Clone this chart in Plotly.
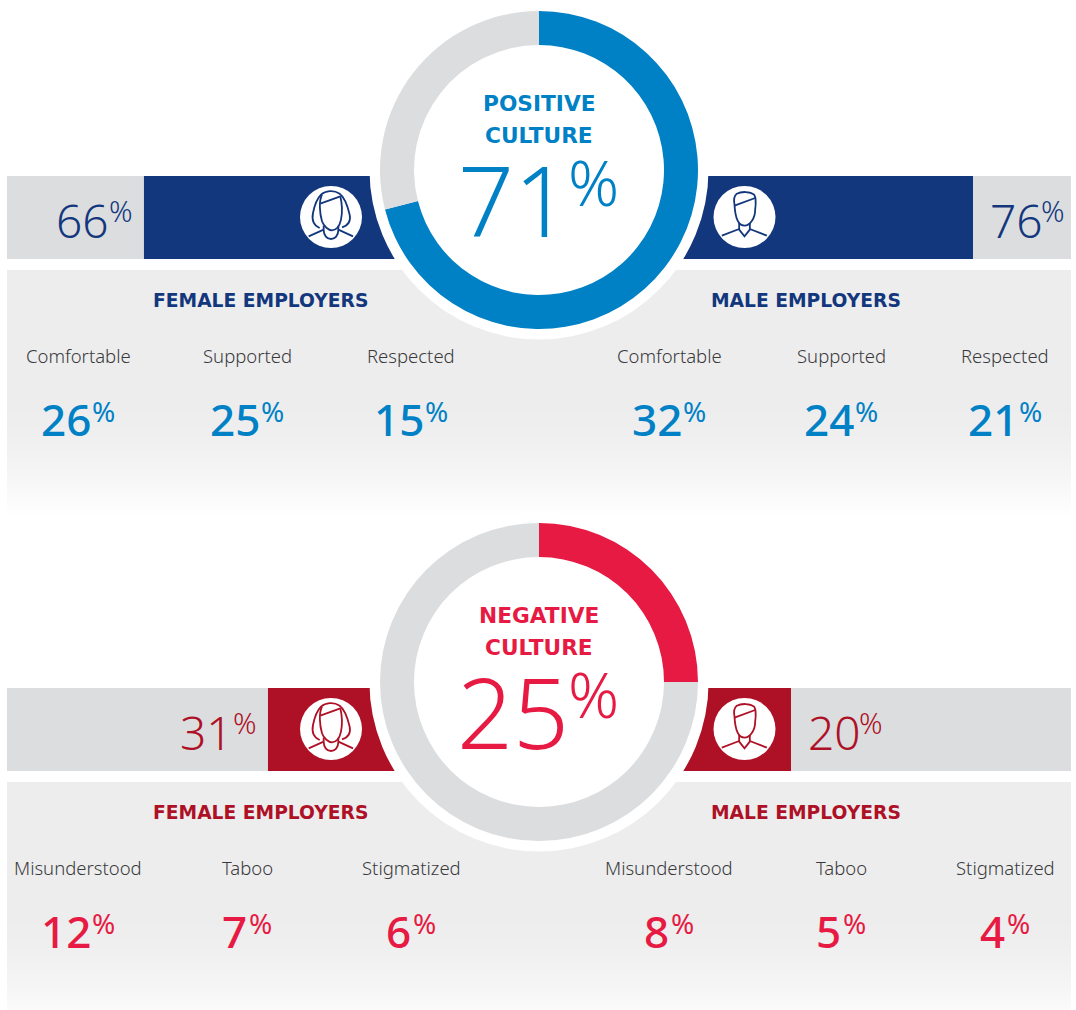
import plotly.graph_objects as go

# ---------- data ----------
culture_names = ["POSITIVE<br>CULTURE", "NEGATIVE<br>CULTURE"]
culture_values = [71, 25]
female_values = [66, 31]
male_values = [76, 20]
rows = ["positive", "negative"]
female_head = "FEMALE EMPLOYERS"
male_head = "MALE EMPLOYERS"
pos_labels = ["Comfortable", "Supported", "Respected"]
neg_labels = ["Misunderstood", "Taboo", "Stigmatized"]
pos_female = [26, 25, 15]
pos_male = [32, 24, 21]
neg_female = [12, 7, 6]
neg_male = [8, 5, 4]

# ---------- style ----------
W, H = 1076, 1010
BLUE, NAVY = "#0081C6", "#13377D"
RED, DARK = "#E61A42", "#AE1126"
GRAY, PANEL = "#DCDDDF", "#EDEDEE"
FONT = "Noto Sans"
HEAD_FONT = "DejaVu Sans"
ROW_STEP = 512
CX, CY, R_OUT, R_IN, R_WHITE = 539, 170, 159, 125, 169.5
COLS_L = [78, 247, 411]
COLS_R = [669, 841, 1005]
L0, LK = 377.8, 3.543
R0, RK = 726, 3.25
BIG_RIGHT = [570, 569]

def inv_left(p):
    return (L0 - p) / LK
def inv_right(p):
    return (p - R0) / RK
OVERLAP = 20

shapes, ann = [], []

def text(x, y, s, size, color, weight=400, anchor="center", family=FONT):
    ann.append(dict(x=x, y=y, xref="x", yref="y", text=s, showarrow=False,
                    xanchor=anchor, yanchor="middle", borderpad=0, borderwidth=0,
                    font=dict(family=family, size=size, color=color, weight=weight)))

def rect(x0, y0, x1, y1, color):
    shapes.append(dict(type="rect", xref="x", yref="y", x0=x0, y0=y0, x1=x1, y1=y1,
                       fillcolor=color, line=dict(width=0), layer="below"))

def lerp_hex(t):
    a = (0xED, 0xED, 0xEE)
    return "rgb(%d,%d,%d)" % tuple(round(c + (255 - c) * t) for c in a)

def icon(cx, cy, dy, female, color):
    shapes.append(dict(type="circle", xref="x", yref="y", x0=cx - 31, x1=cx + 31,
                       y0=cy + dy - 31, y1=cy + dy + 31, fillcolor="white",
                       line=dict(width=0), layer="above"))
    ox, oy = (122, 112) if female else (118, 112)
    if female:
        paths = [
            [("M", 88, 145), ("C", 72, 138, 63, 125, 68, 100), ("C", 72, 80, 82, 55, 92, 45),
             ("C", 105, 33, 130, 30, 148, 42), ("C", 162, 52, 172, 80, 178, 105),
             ("C", 182, 125, 172, 138, 155, 143)],
            [("M", 90, 72), ("L", 150, 50)],
            [("M", 95, 45), ("C", 85, 65, 88, 100, 95, 125), ("C", 100, 140, 115, 152, 125, 152),
             ("C", 138, 152, 148, 138, 152, 120), ("C", 156, 100, 156, 75, 150, 50)],
            [("M", 100, 138), ("L", 100, 150), ("C", 100, 168, 110, 178, 122, 178),
             ("C", 134, 178, 144, 168, 144, 150), ("L", 144, 138)],
            [("M", 55, 170), ("L", 100, 150)],
            [("M", 144, 150), ("L", 188, 170)],
        ]
    else:
        paths = [
            [("M", 88, 75), ("C", 85, 60, 85, 50, 95, 42), ("C", 108, 35, 135, 35, 147, 45),
             ("C", 154, 55, 152, 75, 150, 90), ("C", 150, 115, 135, 138, 118, 138),
             ("C", 100, 138, 90, 115, 88, 75)],
            [("M", 88, 78), ("L", 150, 55)],
            [("M", 102, 130), ("L", 102, 150), ("L", 118, 170), ("L", 134, 150), ("L", 134, 130)],
            [("M", 50, 168), ("L", 102, 148)],
            [("M", 134, 148), ("L", 185, 168)],
        ]
    for p in paths:
        d = []
        for seg in p:
            nums = seg[1:]
            pts = []
            for i in range(0, len(nums), 2):
                pts.append("%.2f,%.2f" % (cx + (nums[i] - ox) / 3, cy + dy + (nums[i + 1] - oy) / 3))
            d.append(seg[0] + " ".join(pts))
        shapes.append(dict(type="path", xref="x", yref="y", path=" ".join(d),
                           line=dict(color=color, width=1.8), layer="above"))

fig = go.Figure()
fig.add_trace(go.Scatter(x=[0], y=[0], mode="markers", marker=dict(opacity=0),
                         showlegend=False, hoverinfo="skip", xaxis="x", yaxis="y"))

for i, row in enumerate(rows):
    dy = i * ROW_STEP
    main, dark = (BLUE, NAVY) if i == 0 else (RED, DARK)
    rect(7, 176 + dy, 420, 259 + dy, GRAY)
    rect(660, 176 + dy, 1071, 259 + dy, GRAY)
    rect(7, 270 + dy, 1071, 400 + dy, PANEL)
    steps = 58
    for s in range(steps):
        y0 = 400 + dy + s * 2
        t = (s / (steps - 1)) ** 1.7
        rect(7, y0, 1071, y0 + 2.5, lerp_hex(t))

    fig.add_trace(go.Bar(orientation="h", y=[row], x=[female_values[i] + OVERLAP],
                         base=[-OVERLAP], width=83 / ROW_STEP, marker=dict(color=dark, line=dict(width=0)),
                         xaxis="x2", yaxis="y2", showlegend=False, hoverinfo="skip"))
    fig.add_trace(go.Bar(orientation="h", y=[row], x=[male_values[i] + OVERLAP],
                         base=[-OVERLAP], width=83 / ROW_STEP, marker=dict(color=dark, line=dict(width=0)),
                         xaxis="x3", yaxis="y2", showlegend=False, hoverinfo="skip"))

    def dom(r):
        return dict(x=[(CX - r) / W, (CX + r) / W],
                    y=[1 - (CY + dy + r) / H, 1 - (CY + dy - r) / H])
    fig.add_trace(go.Pie(values=[1], domain=dom(R_WHITE), sort=False, textinfo="none",
                         marker=dict(colors=["white"], line=dict(width=0)),
                         showlegend=False, hoverinfo="skip"))
    v = culture_values[i]
    fig.add_trace(go.Pie(values=[v, 100 - v], domain=dom(R_OUT), hole=R_IN / R_OUT, sort=False,
                         direction="clockwise", rotation=0, textinfo="none",
                         marker=dict(colors=[main, GRAY], line=dict(width=0)),
                         showlegend=False, hoverinfo="skip"))

    n1, n2 = culture_names[i].split("<br>")
    text(CX, 103 + dy, n1, 21.7, main, 700, family=HEAD_FONT)
    text(CX, 135 + dy, n2, 21.7, main, 700, family=HEAD_FONT)
    text(BIG_RIGHT[i], 199 + dy, str(v), 98, main, 300, "right")
    text(568, 181 + dy, "%", 63, main, 300, "left")

    fx = L0 - LK * female_values[i]
    mx = R0 + RK * male_values[i]
    text(fx - 35, 220 + dy, str(female_values[i]), 46, dark, 300, "right")
    text(fx - 35, 210.5 + dy, "%", 29, dark, 300, "left")
    text(mx + 69.5, 220 + dy, str(male_values[i]), 46, dark, 300, "right")
    text(mx + 68, 210.5 + dy, "%", 29, dark, 300, "left")

    icon(331, 217, dy, True, dark)
    icon(744.5, 217, dy, False, dark)

    text(260, 300.5 + dy, female_head, 18.7, dark, 700, family=HEAD_FONT)
    text(806, 300.5 + dy, male_head, 18.7, dark, 700, family=HEAD_FONT)

    labels = pos_labels if i == 0 else neg_labels
    fvals = pos_female if i == 0 else neg_female
    mvals = pos_male if i == 0 else neg_male
    for cols, vals in ((COLS_L, fvals), (COLS_R, mvals)):
        for c, lab, val in zip(cols, labels, vals):
            text(c, 355.5 + dy, lab, 18.5, "#3A3A3C", 300)
            n = len(str(val))
            split = c + 2 + (n - 1) * 12.5
            text(split - 2, 418.5 + dy, str(val), 44, main, 500, "right")
            text(split - 0.5, 411 + dy, "%", 28, main, 400, "left")

y_top = -217.5 / ROW_STEP
y_bot = (H - 217.5) / ROW_STEP

fig.update_layout(
    width=W, height=H, margin=dict(l=0, r=0, t=0, b=0, pad=0), autosize=False,
    paper_bgcolor="white", plot_bgcolor="white", barmode="overlay", showlegend=False,
    shapes=shapes, annotations=ann,
    xaxis=dict(range=[0, W], visible=False, domain=[0, 1], fixedrange=True),
    yaxis=dict(range=[H, 0], visible=False, domain=[0, 1], fixedrange=True),
    xaxis2=dict(range=[inv_left(0), inv_left(W)], visible=False, overlaying="x", domain=[0, 1], anchor="y2"),
    xaxis3=dict(range=[inv_right(0), inv_right(W)], visible=False, overlaying="x", domain=[0, 1], anchor="y2"),
    yaxis2=dict(type="category", categoryorder="array", categoryarray=rows,
                range=[y_bot, y_top], visible=False, overlaying="y", domain=[0, 1], anchor="x2"),
)
fig.write_html("out.html", config=dict(displayModeBar=False),
               post_script="document.body.style.margin='0';document.body.style.overflow='hidden';")
